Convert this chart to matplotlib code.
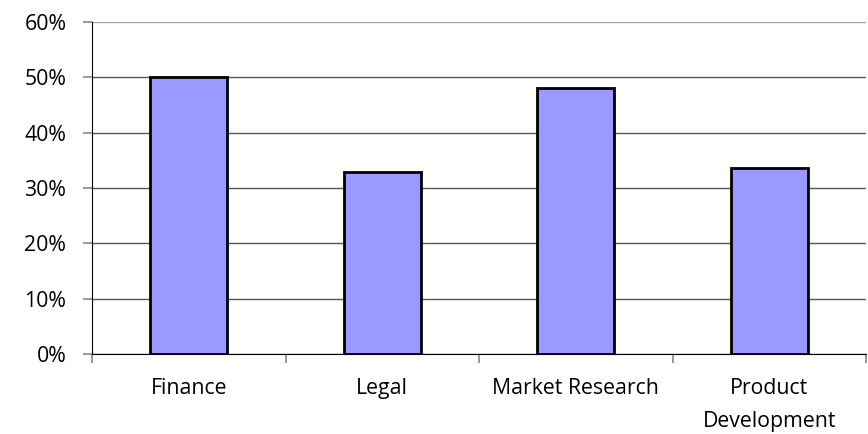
import matplotlib
matplotlib.use("Agg")
import matplotlib.pyplot as plt
from matplotlib.ticker import PercentFormatter, FixedLocator

categories = ["Finance", "Legal", "Market Research", "Product\nDevelopment"]
values = [50.0, 32.9, 48.0, 33.6]
y_ticks = [0, 10, 20, 30, 40, 50, 60]

plt.rcParams['font.family'] = ['Open Sans', 'DejaVu Sans']

fig = plt.figure(figsize=(8.68, 4.34), dpi=100)
ax = fig.add_axes([92 / 868, 1 - 354 / 434, 774 / 868, 332 / 434])

x = list(range(len(categories)))
ax.bar(x, values, width=0.4, color="#9999ff", edgecolor="black", linewidth=2, zorder=3)

ax.set_xlim(-0.5, len(categories) - 0.5)
ax.set_ylim(0, 60)
ax.set_yticks(y_ticks)
ax.yaxis.set_major_formatter(PercentFormatter(decimals=0))
ax.yaxis.grid(True, color="#555555", linewidth=1, zorder=0)
ax.get_ygridlines()[-1].set_color("#aaaaaa")

ax.set_xticks(x)
ax.set_xticklabels(categories, linespacing=1.75)
ax.xaxis.set_minor_locator(FixedLocator([i - 0.5 for i in range(len(categories) + 1)]))
ax.tick_params(axis="x", which="major", length=0, pad=17, labelsize=15.3)
ax.tick_params(axis="x", which="minor", length=6.5, color="#888888", width=1.2)
ax.tick_params(axis="y", length=6.5, color="#888888", width=1.2, labelsize=15.3, pad=12)

for s in ["top", "right"]:
    ax.spines[s].set_visible(False)
ax.spines["left"].set_color("black")
ax.spines["bottom"].set_color("black")
ax.spines["bottom"].set_zorder(4)

fig.savefig("out.png", dpi=100)
